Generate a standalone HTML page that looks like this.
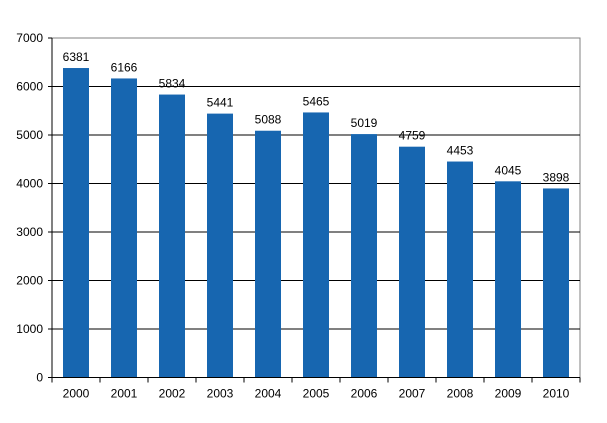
<!DOCTYPE html>
<html><head><meta charset="utf-8"><style>
body{margin:0;background:#fff}
svg text{font-family:"Liberation Sans",sans-serif;font-size:12px;fill:#000}
</style></head><body>
<svg width="607" height="418" id="c"></svg>
<script>
const categories=["2000","2001","2002","2003","2004","2005","2006","2007","2008","2009","2010"];
const values=[6381,6166,5834,5441,5088,5465,5019,4759,4453,4045,3898];
const yTicks=[0,1000,2000,3000,4000,5000,6000,7000];
const svg=document.getElementById('c');const NS='http://www.w3.org/2000/svg';
const L=52,R=580,T=38,B=377.5,yMax=7000;
const y=v=>B-(v/yMax)*(B-T);
const bw=(R-L)/categories.length;
const x=i=>L+bw*i;
function el(t,a,p){const e=document.createElementNS(NS,t);for(const k in a)e.setAttribute(k,a[k]);(p||svg).appendChild(e);return e;}
const plot=el('rect',{x:L,y:T,width:R-L,height:B-T,fill:'#fff',stroke:'#808080','stroke-width':1});


yTicks.forEach(v=>{
 if(v>0&&v<yMax){const g=el('line',{x1:L,x2:R,y1:y(v),y2:y(v),stroke:'#000','stroke-width':1});
 
 }
 const tk=el('line',{x1:L-4,x2:L,y1:y(v),y2:y(v),stroke:'#000'});
 
 
 const t=el('text',{x:L-9,y:y(v)+4,'text-anchor':'end'});t.textContent=v;
 
 
});
values.forEach((v,i)=>{
 const cx=x(i)+bw/2;
 const r=el('rect',{x:cx-13,y:y(v),width:26,height:B-y(v),fill:'#1766b0'});
 
 
 const t=el('text',{x:cx,y:y(v)-7,'text-anchor':'middle'});t.textContent=v;
 
 
 const c=el('text',{x:cx,y:B+20,'text-anchor':'middle'});c.textContent=categories[i];
 
 
});
for(let i=0;i<=categories.length;i++){const tk=el('line',{x1:x(i),x2:x(i),y1:B,y2:B+5,stroke:'#000'});
 
 }
const ax=el('line',{x1:L,x2:L,y1:T,y2:B,stroke:'#000'});


const bx=el('line',{x1:L,x2:R,y1:B,y2:B,stroke:'#000'});


</script>
</body></html>
